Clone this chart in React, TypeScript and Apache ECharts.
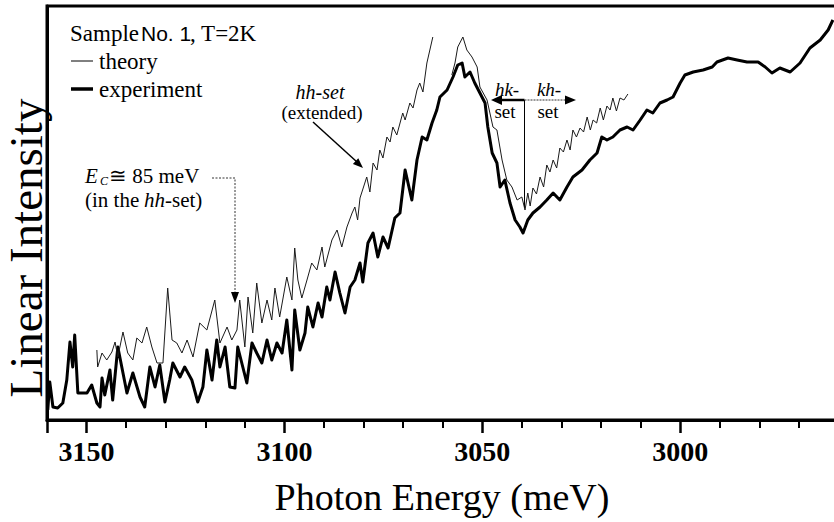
import React, { useEffect, useRef } from "react";
import * as echarts from "echarts";

// ---- Data ----
const expEnergy = [
  3159.8, 3159.3, 3158.5, 3157.3, 3156.0, 3155.0, 3154.2, 3153.5, 3153.0, 3152.2,
  3149.9, 3148.7, 3147.4, 3146.6, 3146.1, 3145.4, 3144.1, 3143.4, 3142.1, 3140.8,
  3139.8, 3138.3, 3136.5, 3135.3, 3134.0, 3132.7, 3131.5, 3130.2, 3129.0, 3128.2,
  3126.4, 3125.2, 3123.4, 3121.9, 3120.6, 3119.6, 3118.3, 3117.1, 3116.3, 3115.0,
  3113.8, 3112.5, 3111.8, 3109.5, 3108.2, 3107.0, 3105.7, 3104.4, 3103.2, 3101.9,
  3100.6, 3099.4, 3098.1, 3097.4, 3096.1, 3094.8, 3094.1, 3092.8, 3091.5, 3090.5,
  3089.3, 3088.5, 3087.2, 3086.0, 3084.7, 3083.4, 3082.2, 3080.9, 3080.2, 3078.9,
  3077.6, 3076.4, 3075.1, 3073.8, 3072.1, 3070.8, 3069.5, 3067.8, 3066.5, 3065.2,
  3064.0, 3062.7, 3061.5, 3060.7, 3058.9, 3057.4, 3056.2, 3055.1, 3054.4, 3053.1,
  3051.9, 3050.6, 3049.3, 3048.6, 3047.5, 3046.3, 3045.5, 3044.3, 3043.0, 3041.7,
  3040.5, 3039.7, 3038.5, 3037.2, 3035.4, 3033.7, 3032.1, 3030.4, 3028.6, 3027.1,
  3024.8, 3022.8, 3021.0, 3019.8, 3018.5, 3017.0, 3015.2, 3013.4, 3011.9, 3010.1,
  3008.4, 3006.9, 3005.1, 3003.3, 3001.8, 3000.0, 2998.8, 2996.7, 2994.2, 2991.9,
  2990.7, 2987.9, 2985.6, 2983.1, 2980.3, 2978.5, 2976.8, 2974.8, 2972.2, 2969.7,
  2967.2, 2964.6, 2962.6, 2961.4,
];
const expIntensity = [
  10, 38, 13, 12, 17, 40, 78, 53, 85, 27,
  27, 35, 17, 13, 42, 25, 50, 20, 73, 47,
  27, 47, 23, 13, 53, 33, 55, 18, 40, 57,
  43, 53, 40, 18, 33, 70, 40, 80, 53, 73,
  33, 32, 73, 37, 77, 67, 57, 80, 60, 77,
  67, 100, 50, 110, 70, 87, 113, 93, 117, 103,
  133, 120, 148, 127, 107, 133, 140, 157, 138, 177,
  187, 163, 183, 172, 202, 207, 250, 220, 260, 283,
  280, 297, 310, 323, 330, 343, 355, 357, 343, 348,
  337, 327, 317, 293, 267, 257, 233, 240, 217, 200,
  193, 187, 200, 207, 213, 220, 227, 220, 233, 243,
  250, 260, 267, 283, 280, 283, 290, 293, 290, 300,
  310, 307, 317, 320, 323, 337, 345, 348, 350, 353,
  358, 362, 360, 358, 358, 353, 347, 352, 348, 357,
  372, 380, 390, 400,
];

// theory, hh-set (extended)
const theoryHhEnergy = [
  3147.4, 3147.2, 3146.1, 3144.9, 3143.6, 3142.8, 3142.1, 3140.8, 3139.6, 3138.3,
  3137.3, 3136.0, 3134.8, 3133.5, 3132.2, 3130.7, 3129.5, 3128.4, 3127.2, 3125.9,
  3124.6, 3123.1, 3121.4, 3119.6, 3117.6, 3116.3, 3114.5, 3113.3, 3112.0, 3111.3,
  3110.0, 3109.2, 3108.0, 3107.0, 3105.7, 3104.4, 3103.2, 3102.4, 3101.2, 3099.4,
  3098.1, 3097.4, 3096.6, 3095.6, 3094.3, 3093.1, 3091.8, 3090.5, 3089.8, 3088.0,
  3086.7, 3085.5, 3084.2, 3082.9, 3082.2, 3081.5, 3080.9, 3079.2, 3078.4, 3077.6,
  3076.6, 3075.9, 3075.1, 3074.1, 3073.3, 3072.6, 3071.6, 3070.1, 3069.5, 3068.3,
  3067.5, 3066.5, 3065.8, 3065.0, 3064.0, 3062.5,
];
const theoryHhIntensity = [
  70, 53, 67, 60, 68, 78, 63, 88, 67, 60,
  82, 77, 93, 73, 57, 57, 132, 80, 77, 67,
  80, 63, 97, 90, 120, 77, 93, 80, 90, 120,
  73, 123, 87, 137, 97, 120, 100, 132, 103, 143,
  120, 172, 140, 122, 140, 157, 150, 173, 153, 180,
  190, 173, 193, 207, 213, 200, 222, 243, 228, 257,
  250, 270, 262, 283, 278, 293, 285, 307, 300, 317,
  312, 330, 337, 328, 357, 383,
];

// theory, hk / kh region
const theoryHkEnergy = [
  3057.7, 3056.9, 3056.2, 3054.9, 3053.9, 3052.6, 3051.3, 3050.6, 3048.8, 3047.3,
  3046.3, 3045.0, 3043.8, 3042.5, 3041.2, 3040.0, 3039.2, 3038.5, 3037.9, 3037.2,
  3036.3, 3035.4, 3034.5, 3033.7, 3032.9, 3032.1, 3031.2, 3030.4, 3029.5, 3028.6,
  3027.8, 3027.1, 3026.2, 3025.3, 3024.4, 3023.5, 3022.7, 3022.0, 3021.1, 3020.2,
  3019.4, 3018.5, 3017.7, 3017.0, 3016.1, 3015.2, 3014.2, 3013.2,
];
const theoryHkIntensity = [
  345, 357, 373, 383, 370, 363, 353, 333, 320, 293,
  290, 260, 240, 233, 220, 223, 210, 227, 214, 232,
  226, 243, 233, 255, 248, 260, 252, 272, 268, 280,
  270, 290, 283, 292, 288, 303, 290, 300, 297, 312,
  300, 314, 310, 322, 309, 322, 320, 326,
];

const xMin = 2950;
const xMax = 3160;
const xInterval = 50;

const SERIF = "Liberation Serif";
const SANS = "Liberation Sans";

function pairs(xs: number[], ys: number[]) {
  return xs.map((x, i) => [x, ys[i]]);
}

function txt(
  x: number,
  y: number,
  text: string,
  size: number,
  opts: { align?: string; italic?: boolean; family?: string; rotation?: number } = {}
) {
  const align = opts.align || "left";
  const el: any = {
    type: "text",
    x,
    y,
    silent: true,
    style: {
      text,
      fontSize: size,
      fontFamily: opts.family || SERIF,
      fontStyle: opts.italic ? "italic" : "normal",
      fontWeight: "normal",
      fill: "#000",
      align,
      verticalAlign: "middle",
      textAlign: align,
      textVerticalAlign: "middle",
    },
  };
  if (opts.rotation) el.rotation = opts.rotation;
  return el;
}

export default function App() {
  const ref = useRef<HTMLDivElement>(null);

  useEffect(() => {
    if (!ref.current) return;
    const chart = echarts.init(ref.current, null, { renderer: "svg" });

    const option: any = {
      animation: false,
      backgroundColor: "#fff",
      grid: {
        left: 47,
        top: 6,
        width: 831,
        height: 414,
        show: true,
        borderColor: "#000",
        borderWidth: 3,
        backgroundColor: "transparent",
        containLabel: false,
        outerBoundsMode: "none",
      },
      xAxis: {
        type: "value",
        min: xMin,
        max: xMax,
        interval: xInterval,
        inverse: true,
        axisLine: { show: true, lineStyle: { color: "#000", width: 3 } },
        axisTick: { show: true, inside: false, length: 13, lineStyle: { color: "#000", width: 2.5 } },
        minorTick: { show: true, splitNumber: 5, length: 8, lineStyle: { color: "#000", width: 2 } },
        axisLabel: {
          color: "#000",
          fontFamily: SERIF,
          fontWeight: "bold",
          fontSize: 28,
          margin: 17,
          formatter: (v: number) => (v <= xMin ? "" : String(v)),
        },
        splitLine: { show: false },
        minorSplitLine: { show: false },
      },
      yAxis: {
        type: "value",
        min: 0,
        max: 414,
        axisLine: { show: true, lineStyle: { color: "#000", width: 3 } },
        axisTick: { show: false },
        axisLabel: { show: false },
        splitLine: { show: false },
      },
      series: [
        {
          name: "experiment",
          type: "line",
          data: pairs(expEnergy, expIntensity),
          showSymbol: false,
          symbol: "none",
          lineStyle: { color: "#000", width: 3, join: "round" },
          clip: true,
          z: 3,
        },
        {
          name: "theory",
          type: "line",
          data: pairs(theoryHhEnergy, theoryHhIntensity),
          showSymbol: false,
          symbol: "none",
          lineStyle: { color: "#1a1a1a", width: 1 },
          clip: true,
          z: 4,
        },
        {
          name: "theory (hk/kh)",
          type: "line",
          data: pairs(theoryHkEnergy, theoryHkIntensity),
          showSymbol: false,
          symbol: "none",
          lineStyle: { color: "#1a1a1a", width: 1 },
          clip: true,
          z: 4,
        },
      ],
      graphic: [
        // axis titles
        txt(26, 248, "Linear Intensity", 47, { align: "center", rotation: Math.PI / 2 }),
        txt(442, 497, "Photon Energy (meV)", 38, { align: "center" }),
        // legend block
        txt(70, 33, "Sample", 23),
        txt(141, 33, "No. 1", 21, { family: SANS }),
        txt(190, 33, ", T=2K", 23),
        { type: "line", shape: { x1: 71, y1: 61, x2: 93, y2: 61 }, style: { stroke: "#000", lineWidth: 1 } },
        txt(99, 61, "theory", 23),
        { type: "line", shape: { x1: 71, y1: 89, x2: 93, y2: 89 }, style: { stroke: "#000", lineWidth: 3.5 } },
        txt(99, 89, "experiment", 23),
        // hh-set (extended)
        txt(320, 92, "hh-set", 20, { align: "center", italic: true }),
        txt(322, 112, "(extended)", 19, { align: "center" }),
        { type: "line", shape: { x1: 313, y1: 122, x2: 357, y2: 162 }, style: { stroke: "#000", lineWidth: 1.5 } },
        { type: "polygon", shape: { points: [[363, 168], [352.9, 164.1], [358.3, 158.3]] }, style: { fill: "#000" } },
        // Ec annotation
        txt(85, 176, "E", 21, { italic: true }),
        txt(100, 181, "C", 12, { italic: true }),
        txt(109, 176, "≅ 85 meV", 21),
        txt(85, 199.5, "(in the", 21),
        txt(144, 199.5, "hh", 21, { italic: true }),
        txt(165, 199.5, "-set)", 21),
        {
          type: "polyline",
          shape: { points: [[212, 178], [235, 178], [235, 294]] },
          style: { stroke: "#333", lineWidth: 1, lineDash: [2, 1.5], fill: null },
        },
        { type: "polygon", shape: { points: [[235, 303], [231, 292], [239, 292]] }, style: { fill: "#000" } },
        // hk / kh set markers
        { type: "line", shape: { x1: 524.5, y1: 100, x2: 524.5, y2: 208 }, style: { stroke: "#000", lineWidth: 1 } },
        { type: "line", shape: { x1: 524.5, y1: 100, x2: 500, y2: 100 }, style: { stroke: "#000", lineWidth: 2.5 } },
        { type: "polygon", shape: { points: [[491, 100], [502, 95], [502, 105]] }, style: { fill: "#000" } },
        {
          type: "line",
          shape: { x1: 524.5, y1: 100, x2: 567, y2: 100 },
          style: { stroke: "#333", lineWidth: 1, lineDash: [2, 1] },
        },
        { type: "polygon", shape: { points: [[576, 100], [565, 95.5], [565, 104.5]] }, style: { fill: "#000" } },
        txt(507, 89, "hk-", 19, { align: "center", italic: true }),
        txt(505, 111, "set", 19, { align: "center" }),
        txt(549, 89, "kh-", 19, { align: "center", italic: true }),
        txt(548, 111, "set", 19, { align: "center" }),
      ],
    };

    chart.setOption(option);
    return () => chart.dispose();
  }, []);

  return (
    <div
      ref={ref}
      style={{ position: "fixed", left: 0, top: 0, width: 834, height: 522, background: "#fff" }}
    />
  );
}
